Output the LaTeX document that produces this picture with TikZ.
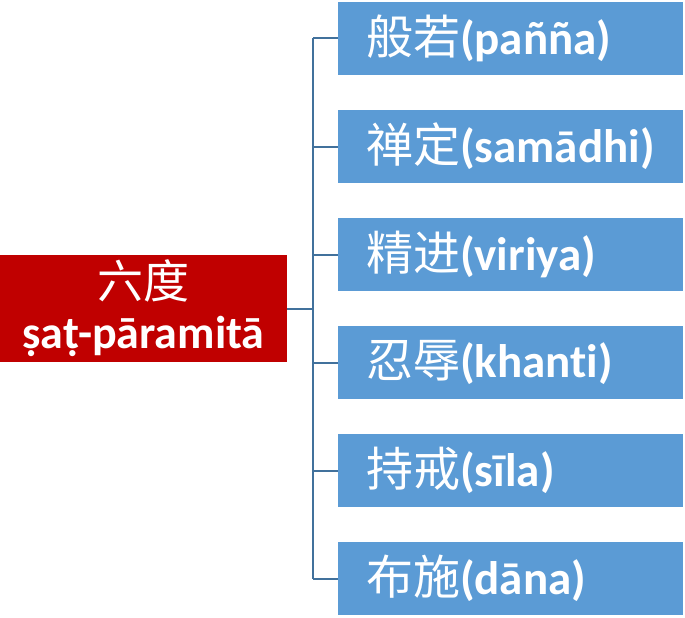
\documentclass[tikz,border=0pt]{standalone}
\usepackage{fontspec}
\setmainfont{Carlito}[Ligatures=NoCommon]
\newfontfamily\cjk{Noto Sans CJK SC}
\usepackage{tikz}
\usetikzlibrary{positioning, calc}

\definecolor{rootred}{HTML}{C00000}
\definecolor{leafblue}{HTML}{5B9BD5}
\definecolor{linkblue}{HTML}{41719C}

\tikzset{
  rootbox/.style={fill=rootred, text=white, minimum width=287pt, minimum height=107pt,
                  inner sep=0pt, align=center, font=\fontsize{46}{50}\selectfont\bfseries},
  leafbox/.style={fill=leafblue, text=white, minimum height=73pt, text width=289pt,
                  inner xsep=28pt, inner ysep=0pt, align=left,
                  font=\fontsize{47}{50}\selectfont\bfseries},
  link/.style={draw=linkblue, line width=2pt}
}

\begin{document}
\begin{tikzpicture}[x=1pt, y=-1pt]
  \useasboundingbox (0,0) rectangle (685,618);
  % Root
  \node[rootbox] (root) at (143.5, 308.5) {{\cjk\mdseries 六度}\\ṣaṭ-pāramitā};
  % Six perfections
  \foreach \i/\zh/\pali in {1/般若/pañña, 2/禅定/samādhi, 3/精进/viriya,
                           4/忍辱/khanti, 5/持戒/sīla, 6/布施/dāna}{
    \node[leafbox] (leaf\i) at (510.5, {38.5+108*(\i-1)}) {{\cjk\mdseries \zh}(\pali)};
  }
  % Bracket
  \coordinate (bus) at (312.5, 0);
  \draw[link] (root.east) -- (root.east -| bus);
  \draw[link] (leaf1.west -| bus) -- (leaf6.west -| bus);
  \foreach \i in {1,...,6}{
    \draw[link] (leaf\i.west) -- (leaf\i.west -| bus);
  }
\end{tikzpicture}
\end{document}
